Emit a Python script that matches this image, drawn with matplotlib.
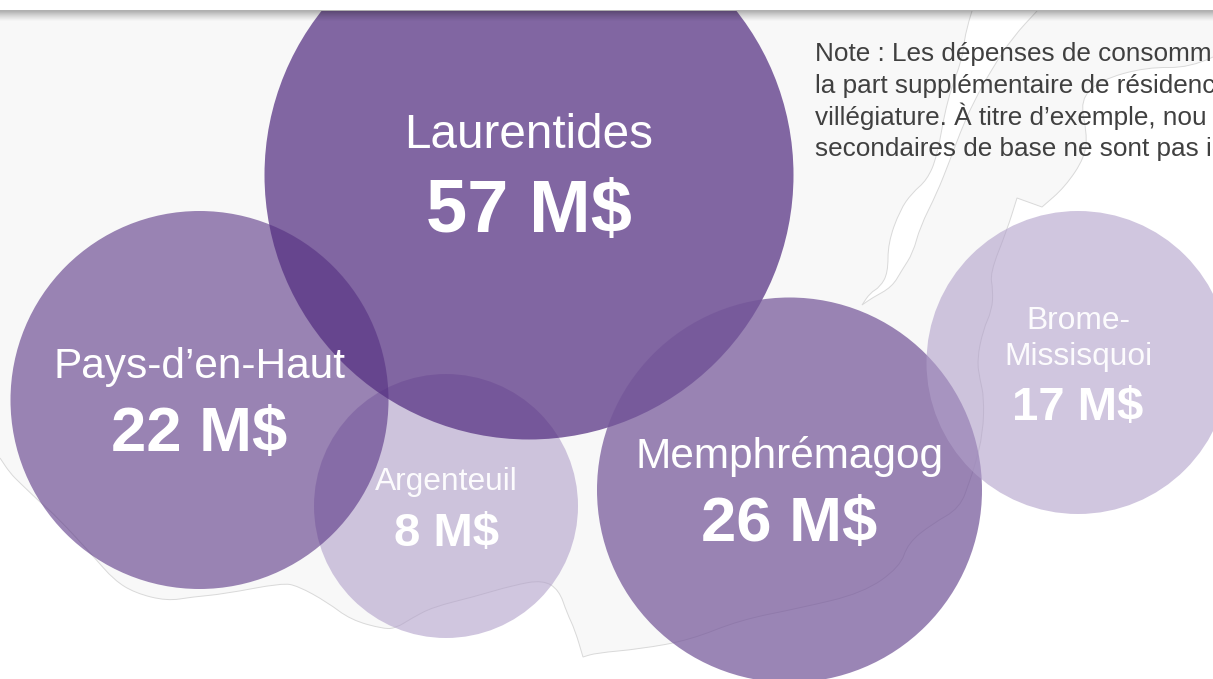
import numpy as np
import matplotlib
matplotlib.use('Agg')
import matplotlib.pyplot as plt
from matplotlib.patches import Circle, PathPatch
from matplotlib.path import Path

plt.rcParams['font.family'] = ['Liberation Sans', 'DejaVu Sans']

# regions, drawn in this order
regions = ['Argenteuil', 'Laurentides', 'Pays-d’en-Haut', 'Memphrémagog', 'Brome-\nMissisquoi']
amounts = ['8 M$', '57 M$', '22 M$', '26 M$', '17 M$']
centre_x = [446, 529, 199.5, 789.5, 1078]
centre_y = [506, 175, 400, 490, 362.5]
radius = [132, 264.5, 189, 192.5, 151.5]
fills = ['#b1a0ca', '#542e81', '#542e81', '#745699', '#b1a0ca']
alphas = [0.6, 0.72, 0.58, 0.72, 0.6]

# label sizes and baselines
name_size = [22.9, 34.3, 30.5, 30.5, 22.9]
value_size = [34, 53.4, 45.6, 45.6, 34]
name_y = [490, 148, 378, 468, 365]
value_y = [546, 232, 451, 541, 420]

note_lines = ['Note : Les dépenses de consomm',
              'la part supplémentaire de résidenc',
              'villégiature. À titre d’exemple, nou',
              'secondaires de base ne sont pas i']
note_y = [61, 93, 125, 156]

# map outline in picture pixels, a repeated point keeps a corner sharp
coast_x = [1213, 1190, 1147, 1100, 1080, 1087, 1085, 1065, 1042, 1042, 1017, 1017, 1007, 990, 993, 992, 983, 977, 980,
           984, 983, 975, 970, 960, 932, 908, 900, 863, 800, 740, 690, 640, 596, 583, 583, 575, 567, 559, 543,
           514, 473, 433, 412, 396, 384, 351, 327, 298, 282, 224, 192, 167, 135, 114, 94, 57, 41, 20, 10, 0]
coast_y = [57, 68, 67, 80, 100, 133, 157, 187, 207, 207, 198, 198, 230, 273, 290, 310, 330, 360, 380,
           397, 433, 465, 480, 508, 524, 543, 567, 593, 608, 620, 640, 649, 653, 657, 657, 630, 613, 590, 580,
           585, 597, 607, 618, 628, 629, 620, 602, 586, 583, 594, 597, 601, 593, 580, 557, 517, 503, 483, 473, 458]
river_x = [972, 965, 963, 947, 937, 927, 912, 900, 888, 888, 880, 870, 862, 862,
           872, 892, 902, 913, 920, 937, 950, 960, 973, 993, 1013, 1037]
river_y = [11, 33, 57, 100, 157, 180, 193, 210, 243, 273, 287, 293, 305, 305,
           298, 287, 270, 253, 227, 193, 160, 133, 103, 67, 37, 11]


def smooth_verts(xs, ys):
    # quadratic curve through the midpoints of the outline
    pts = np.column_stack([xs, ys]).astype(float)
    verts = [pts[0]]
    for i in range(1, len(pts) - 1):
        verts.append(pts[i])
        verts.append((pts[i] + pts[i + 1]) / 2)
    verts.append(pts[-1])
    codes = [Path.MOVETO] + [Path.CURVE3] * (len(verts) - 1)
    if len(verts) % 2 == 0:
        codes[-1] = Path.LINETO
    return verts, codes


fig = plt.figure(figsize=(12.13, 6.79), dpi=100)
ax = fig.add_axes([0, 0, 1, 1])
ax.set_xlim(0, 1213)
ax.set_ylim(679, 0)
ax.axis('off')

# land and river
coast_verts, coast_codes = smooth_verts(coast_x, coast_y)
land = Path(coast_verts + [(0, 11), (1213, 11), (1213, 57)],
            coast_codes + [Path.LINETO, Path.LINETO, Path.CLOSEPOLY])
ax.add_patch(PathPatch(land, fc='#f8f8f8', ec='none', zorder=1))
ax.add_patch(PathPatch(Path(coast_verts, coast_codes), fc='none', ec='#d9d9d9', lw=0.7, zorder=2))
river_verts, river_codes = smooth_verts(river_x, river_y)
ax.add_patch(PathPatch(Path(river_verts, river_codes), fc='white', ec='#d9d9d9', lw=0.7, zorder=2))

# bubbles
for i in range(len(regions)):
    ax.add_patch(Circle((centre_x[i], centre_y[i]), radius[i], fc=fills[i], ec='none',
                        alpha=alphas[i], zorder=3 + i * 0.1))

# white strip on top with its shadow
ax.fill_between([0, 1213], 0, 10.5, color='white', lw=0, zorder=5)
shadow = np.zeros((24, 1, 4))
shadow[:, 0, 3] = np.linspace(0.42, 0, 24) ** 1.3
ax.imshow(shadow, extent=(0, 1213, 22, 10.5), aspect='auto', zorder=5, interpolation='bilinear')
ax.set_xlim(0, 1213)
ax.set_ylim(679, 0)

# labels
for i in range(len(regions)):
    ax.text(centre_x[i], name_y[i], regions[i], color='white', fontsize=name_size[i], ha='center',
            va='baseline', linespacing=1.27, zorder=6, alpha=0.95 if alphas[i] == 0.6 else 1)
    ax.text(centre_x[i], value_y[i], amounts[i], color='white', fontsize=value_size[i], fontweight='bold',
            ha='center', va='baseline', zorder=6)

for line, y in zip(note_lines, note_y):
    ax.text(815, y, line, color='#404040', fontsize=18.8, ha='left', va='baseline', zorder=6)

fig.savefig('out.png', dpi=100)
